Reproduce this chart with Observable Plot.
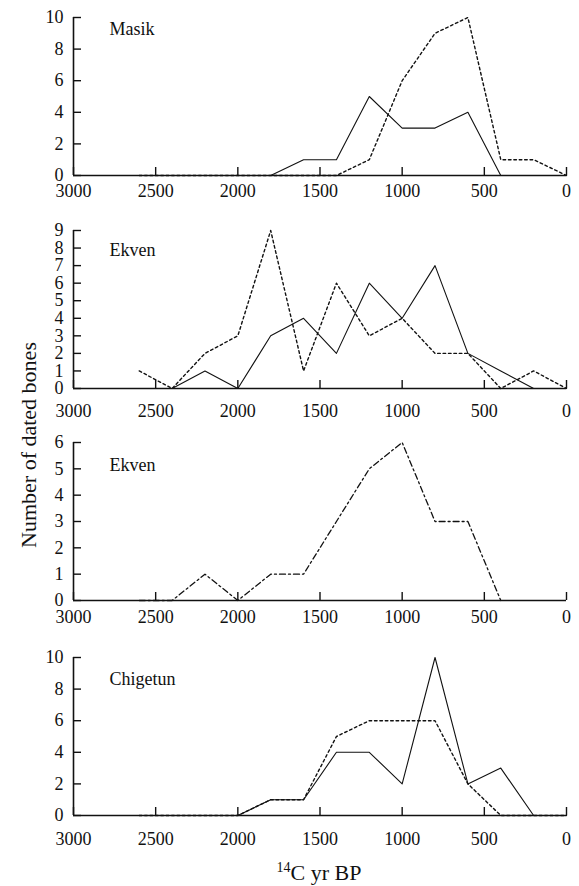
<!DOCTYPE html>
<html>
<head>
<meta charset="utf-8">
<script src="https://cdn.jsdelivr.net/npm/d3@7"></script>
<script src="https://cdn.jsdelivr.net/npm/@observablehq/plot@0.6"></script>
<style>
  body { margin: 0; background: #fff; }
  #wrap { position: relative; width: 579px; height: 886px; font-family: "Liberation Serif", "DejaVu Serif", "Times New Roman", Times, serif; color: #111; }
  #wrap svg { position: absolute; left: 0; overflow: visible; }
  #ylab { position: absolute; left: 29px; top: 445px; transform: translate(-50%, -50%) rotate(-90deg); font-size: 22px; white-space: nowrap; }
  #xlab { position: absolute; left: 319px; top: 873px; transform: translate(-50%, -50%); font-size: 22px; line-height: 24px; white-space: nowrap; }
  #xlab sup { font-size: 14px; vertical-align: 8px; line-height: 0; }
</style>
</head>
<body>
<div id="wrap">
  <div id="ylab">Number of dated bones</div>
  <div id="xlab"><sup>14</sup>C yr BP</div>
</div>
<script>
// ---- data ----
const years = [2600, 2400, 2200, 2000, 1800, 1600, 1400, 1200, 1000, 800, 600, 400, 200, 0];
const xTicks = [3000, 2500, 2000, 1500, 1000, 500, 0];
const siteNames = ["Masik", "Ekven", "Ekven", "Chigetun"];

const masikSolid    = [0, 0, 0, 0, 0, 1, 1, 5, 3, 3, 4, 0, 0, 0];
const masikDotted   = [0, 0, 0, 0, 0, 0, 0, 1, 6, 9, 10, 1, 1, 0];
const ekvenSolid    = [null, 0, 1, 0, 3, 4, 2, 6, 4, 7, 2, 1, 0, 0];
const ekvenDotted   = [1, 0, 2, 3, 9, 1, 6, 3, 4, 2, 2, 0, 1, 0];
const ekven2DashDot = [0, 0, 1, 0, 1, 1, 3, 5, 6, 3, 3, 0, null, null];
const chigetunSolid = [0, 0, 0, 0, 1, 1, 4, 4, 2, 10, 2, 3, 0, 0];
const chigetunDotted= [0, 0, 0, 0, 1, 1, 5, 6, 6, 6, 2, 0, 0, 0];

const yTicks10 = [0, 2, 4, 6, 8, 10];
const yTicks9 = [0, 1, 2, 3, 4, 5, 6, 7, 8, 9];
const yTicks6 = [0, 1, 2, 3, 4, 5, 6];

// ---- styles ----
const FONT = "'Liberation Serif', 'DejaVu Serif', 'Times New Roman', Times, serif";
const SOLID = {strokeWidth: 1.1, strokeDasharray: null};
const DOTTED = {strokeWidth: 1.4, strokeDasharray: "2.6,2.8"};
const DASHDOT = {strokeWidth: 1.3, strokeDasharray: "6,3,2,3"};

function rows(values) {
  return years.map((year, i) => ({year, n: values[i]})).filter(d => d.n != null);
}

function panel({name, yMax, yTicks, series, top, marginTop, labelDy, xPad}) {
  const plotH = 158, marginBottom = 42;
  const svg = Plot.plot({
    width: 579,
    height: marginTop + plotH + marginBottom,
    marginLeft: 73,
    marginRight: 13,
    marginTop,
    marginBottom,
    x: {domain: [3000, 0], label: null},
    y: {domain: [0, yMax], label: null},
    style: {fontFamily: FONT, fontSize: "18px", color: "#111", background: "transparent"},
    marks: [
      ...series.map(s => Plot.line(rows(s.values), {
        x: "year", y: "n", stroke: "#111",
        strokeWidth: s.style.strokeWidth, strokeDasharray: s.style.strokeDasharray
      })),
      Plot.ruleX([3000], {stroke: "#111", strokeWidth: 1.6}),
      Plot.ruleY([0], {stroke: "#111", strokeWidth: 1.6}),
      Plot.axisY(yTicks, {tickSize: -8, tickPadding: 18, fontSize: 18, fontFamily: FONT, label: null, strokeWidth: 1.4}),
      Plot.axisX(xTicks, {tickSize: -8, tickPadding: xPad, fontSize: 18, fontFamily: FONT, label: null, tickFormat: "d", strokeWidth: 1.4}),
      Plot.text([name], {text: d => d, frameAnchor: "top-left", textAnchor: "start", dx: 36, dy: labelDy, fontSize: 18, fontFamily: FONT, fill: "#111"})
    ]
  });
  svg.style.top = top + "px";
  return svg;
}

const wrap = document.getElementById("wrap");
wrap.append(
  panel({name: siteNames[0], yMax: 10, yTicks: yTicks10, top: 0, marginTop: 17, labelDy: 5, xPad: 17,
    series: [{values: masikSolid, style: SOLID}, {values: masikDotted, style: DOTTED}]}),
  panel({name: siteNames[1], yMax: 9, yTicks: yTicks9, top: 200, marginTop: 30, labelDy: 13, xPad: 24,
    series: [{values: ekvenSolid, style: SOLID}, {values: ekvenDotted, style: DOTTED}]}),
  panel({name: siteNames[2], yMax: 6, yTicks: yTicks6, top: 412, marginTop: 30, labelDy: 16, xPad: 18,
    series: [{values: ekven2DashDot, style: DASHDOT}]}),
  panel({name: siteNames[3], yMax: 10, yTicks: yTicks10, top: 624, marginTop: 33, labelDy: 15, xPad: 25,
    series: [{values: chigetunSolid, style: SOLID}, {values: chigetunDotted, style: DOTTED}]})
);
</script>
</body>
</html>
